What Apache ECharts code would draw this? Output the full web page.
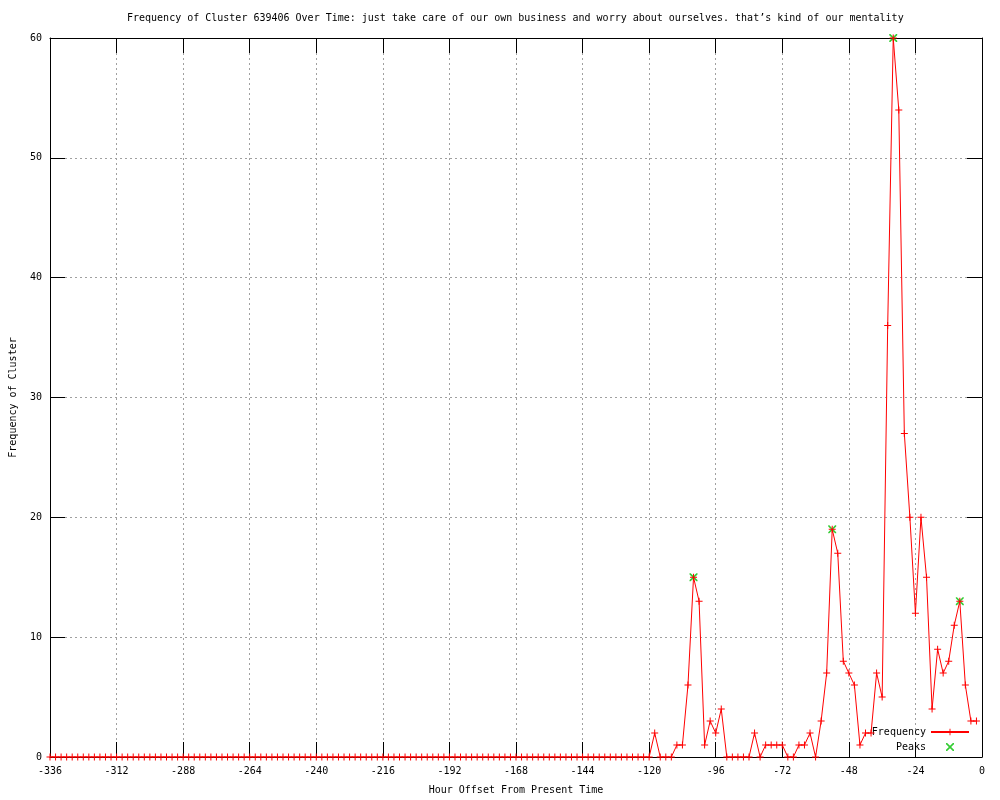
<!DOCTYPE html>
<html>
<head>
<meta charset="utf-8">
<script src="https://cdn.jsdelivr.net/npm/echarts@6/dist/echarts.min.js"></script>
<style>html,body{margin:0;padding:0;background:#fff}#c{width:1000px;height:800px}</style>
</head>
<body>
<div id="c"></div>
<script>
const titleText = "Frequency of Cluster 639406 Over Time: just take care of our own business and worry about ourselves. that\u2019s kind of our mentality";
const xName = "Hour Offset From Present Time";
const yName = "Frequency of Cluster";

const hours = [
  -336,-334,-332,-330,-328,-326,-324,-322,-320,-318,-316,-314,
  -312,-310,-308,-306,-304,-302,-300,-298,-296,-294,-292,-290,
  -288,-286,-284,-282,-280,-278,-276,-274,-272,-270,-268,-266,
  -264,-262,-260,-258,-256,-254,-252,-250,-248,-246,-244,-242,
  -240,-238,-236,-234,-232,-230,-228,-226,-224,-222,-220,-218,
  -216,-214,-212,-210,-208,-206,-204,-202,-200,-198,-196,-194,
  -192,-190,-188,-186,-184,-182,-180,-178,-176,-174,-172,-170,
  -168,-166,-164,-162,-160,-158,-156,-154,-152,-150,-148,-146,
  -144,-142,-140,-138,-136,-134,-132,-130,-128,-126,-124,-122,
  -120,-118,-116,-114,-112,-110,-108,-106,-104,-102,-100,-98,
  -96,-94,-92,-90,-88,-86,-84,-82,-80,-78,-76,-74,
  -72,-70,-68,-66,-64,-62,-60,-58,-56,-54,-52,-50,
  -48,-46,-44,-42,-40,-38,-36,-34,-32,-30,-28,-26,
  -24,-22,-20,-18,-16,-14,-12,-10,-8,-6,-4,-2
];
const frequency = [
  0,0,0,0,0,0,0,0,0,0,0,0,
  0,0,0,0,0,0,0,0,0,0,0,0,
  0,0,0,0,0,0,0,0,0,0,0,0,
  0,0,0,0,0,0,0,0,0,0,0,0,
  0,0,0,0,0,0,0,0,0,0,0,0,
  0,0,0,0,0,0,0,0,0,0,0,0,
  0,0,0,0,0,0,0,0,0,0,0,0,
  0,0,0,0,0,0,0,0,0,0,0,0,
  0,0,0,0,0,0,0,0,0,0,0,0,
  0,2,0,0,0,1,1,6,15,13,1,3,
  2,4,0,0,0,0,0,2,0,1,1,1,
  1,0,0,1,1,2,0,3,7,19,17,8,
  7,6,1,2,2,7,5,36,60,54,27,20,
  12,20,15,4,9,7,8,11,13,6,3,3
];
const peakHours = [-104, -54, -32, -8];
const peakValues = [15, 19, 60, 13];
const xTicks = {min: -336, max: 0, interval: 24};
const yTicks = {min: 0, max: 60, interval: 10};

const FONT = "'DejaVu Sans Mono', 'Liberation Mono', monospace";
const plusPath = 'path://M3,0H4V3H7V4H4V7H3V4H0V3H3Z';
const crossPath = 'path://M0,0L1,0L3.5,2.5L6,0L7,0L7,1L4.5,3.5L7,6L7,7L6,7L3.5,4.5L1,7L0,7L0,6L2.5,3.5L0,1Z';

const chart = echarts.init(document.getElementById('c'), null, {renderer: 'canvas'});
const tickStyle = {show: true, inside: true, length: 15, lineStyle: {color: '#000', width: 1}};
const lineAxis = {show: true, onZero: false, lineStyle: {color: '#000', width: 1}};
const split = {show: true, lineStyle: {color: '#a0a0a0', width: 1, type: [2, 3]}};

chart.setOption({
  animation: false,
  backgroundColor: '#fff',
  title: {
    text: titleText, left: 127, top: 13, padding: 0,
    textStyle: {fontFamily: FONT, fontSize: 10, fontWeight: 'normal', color: '#000'}
  },
  grid: {left: 50, right: 18, top: 38, bottom: 40, containLabel: false},
  legend: {
    data: ['Frequency', 'Peaks'],
    orient: 'vertical', right: 30, top: 727, padding: 0,
    align: 'right', itemWidth: 38, itemHeight: 8, itemGap: 5,
    textStyle: {fontFamily: FONT, fontSize: 10, color: '#000'}
  },
  xAxis: [{
    type: 'value', position: 'bottom', min: xTicks.min, max: xTicks.max, interval: xTicks.interval,
    name: xName, nameLocation: 'middle', nameGap: 28,
    nameTextStyle: {fontFamily: FONT, fontSize: 10, color: '#000'},
    axisLine: lineAxis, axisTick: tickStyle, splitLine: split,
    axisLabel: {fontFamily: FONT, fontSize: 10, color: '#000', margin: 9}
  }, {
    type: 'value', position: 'top', min: xTicks.min, max: xTicks.max, interval: xTicks.interval,
    axisLine: lineAxis, axisTick: tickStyle, splitLine: {show: false}, axisLabel: {show: false}
  }],
  yAxis: [{
    type: 'value', position: 'left', min: yTicks.min, max: yTicks.max, interval: yTicks.interval,
    name: yName, nameLocation: 'middle', nameGap: 32,
    nameTextStyle: {fontFamily: FONT, fontSize: 10, color: '#000'},
    axisLine: lineAxis, axisTick: tickStyle, splitLine: split,
    axisLabel: {fontFamily: FONT, fontSize: 10, color: '#000', margin: 8}
  }, {
    type: 'value', position: 'right', min: yTicks.min, max: yTicks.max, interval: yTicks.interval,
    axisLine: lineAxis, axisTick: tickStyle, splitLine: {show: false}, axisLabel: {show: false}
  }],
  series: [{
    name: 'Frequency', type: 'line', xAxisIndex: 0, yAxisIndex: 0,
    data: hours.map((h, i) => [h, frequency[i]]),
    symbol: plusPath, symbolSize: 7, showSymbol: true, showAllSymbol: true,
    lineStyle: {color: '#ff0000', width: 1},
    itemStyle: {color: '#ff0000'},
    z: 4
  }, {
    name: 'Peaks', type: 'scatter', xAxisIndex: 0, yAxisIndex: 0,
    data: peakHours.map((h, i) => [h, peakValues[i]]),
    symbol: crossPath, symbolSize: 8, symbolKeepAspect: true,
    itemStyle: {color: '#00c000'},
    z: 3
  }]
});
</script>
</body>
</html>
